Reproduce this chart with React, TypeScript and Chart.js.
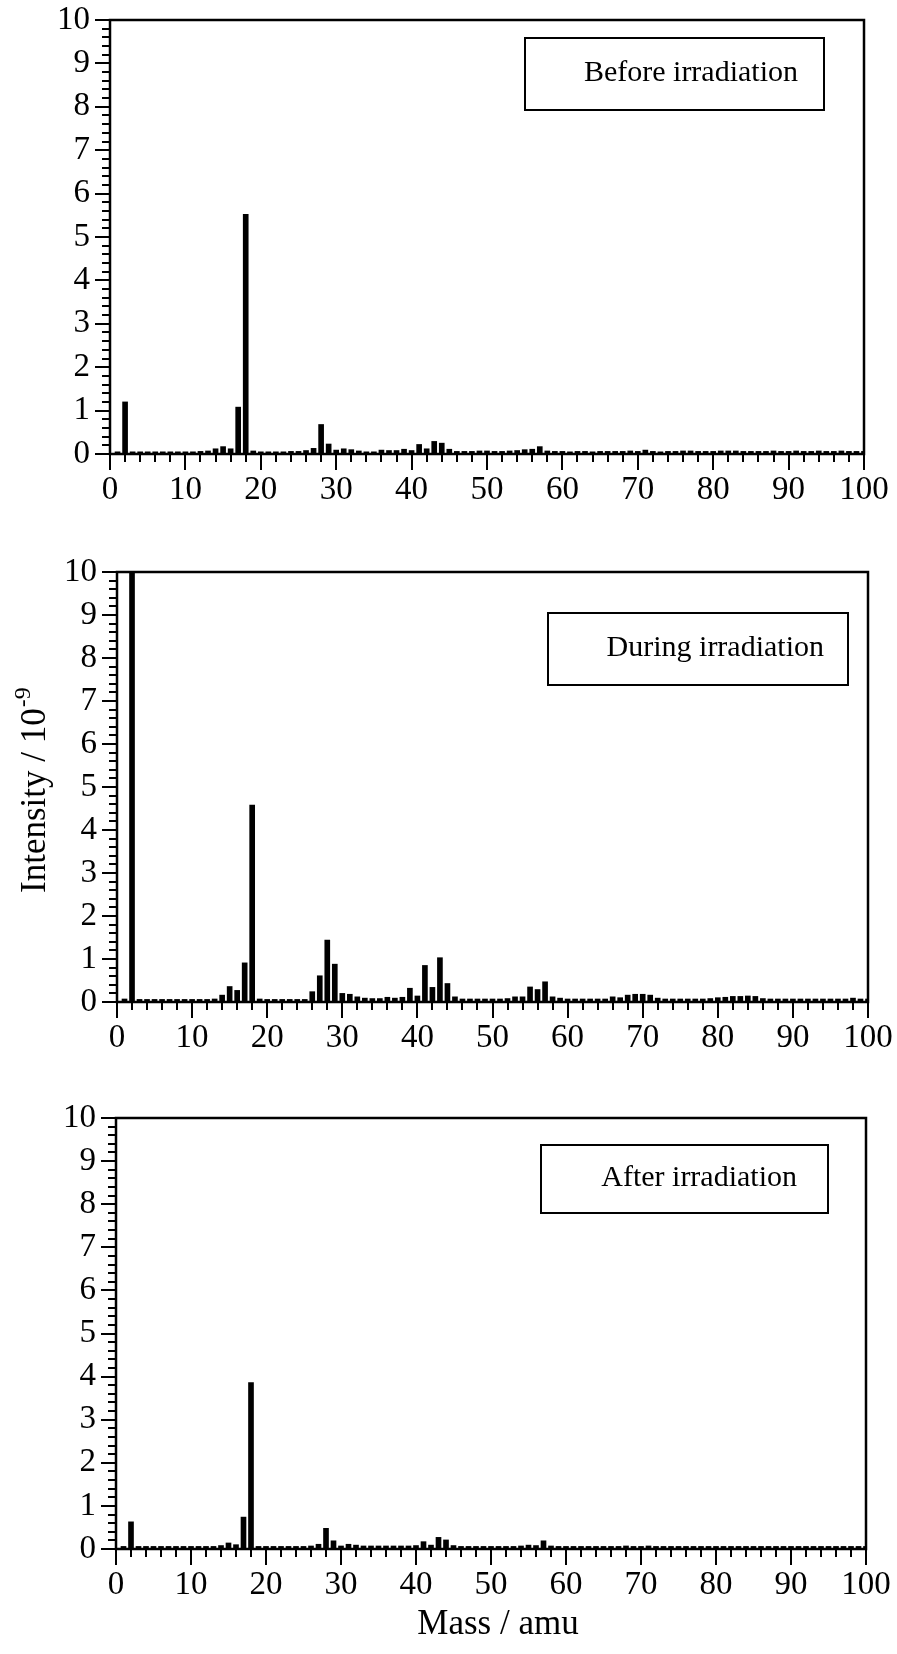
import React, { useEffect, useRef } from "react";
import { Chart, registerables } from "chart.js";

Chart.register(...registerables);

// ---------------- data ----------------
const masses = [
  1, 2, 3, 4, 5, 6, 7, 8, 9, 10,
  11, 12, 13, 14, 15, 16, 17, 18, 19, 20,
  21, 22, 23, 24, 25, 26, 27, 28, 29, 30,
  31, 32, 33, 34, 35, 36, 37, 38, 39, 40,
  41, 42, 43, 44, 45, 46, 47, 48, 49, 50,
  51, 52, 53, 54, 55, 56, 57, 58, 59, 60,
  61, 62, 63, 64, 65, 66, 67, 68, 69, 70,
  71, 72, 73, 74, 75, 76, 77, 78, 79, 80,
  81, 82, 83, 84, 85, 86, 87, 88, 89, 90,
  91, 92, 93, 94, 95, 96, 97, 98, 99, 100,
];

const beforeValues = [
  0.05, 1.2, 0.05, 0.05, 0.05, 0.05, 0.05, 0.05, 0.05, 0.05,
  0.05, 0.06, 0.07, 0.12, 0.17, 0.12, 1.08, 5.52, 0.07, 0.05,
  0.05, 0.05, 0.05, 0.06, 0.06, 0.08, 0.13, 0.68, 0.23, 0.09,
  0.12, 0.1, 0.07, 0.05, 0.05, 0.09, 0.08, 0.08, 0.11, 0.08,
  0.22, 0.12, 0.29, 0.25, 0.11, 0.06, 0.06, 0.06, 0.07, 0.07,
  0.06, 0.06, 0.07, 0.08, 0.1, 0.11, 0.17, 0.07, 0.06, 0.06,
  0.05, 0.06, 0.06, 0.05, 0.06, 0.06, 0.06, 0.06, 0.07, 0.06,
  0.09, 0.06, 0.05, 0.06, 0.06, 0.07, 0.07, 0.06, 0.06, 0.06,
  0.07, 0.07, 0.07, 0.06, 0.06, 0.06, 0.06, 0.07, 0.06, 0.06,
  0.07, 0.06, 0.06, 0.07, 0.06, 0.06, 0.07, 0.06, 0.06, 0.06,
];

const duringValues = [
  0.07, 10, 0.06, 0.06, 0.06, 0.06, 0.06, 0.06, 0.06, 0.06,
  0.06, 0.06, 0.07, 0.16, 0.36, 0.27, 0.91, 4.58, 0.07, 0.06,
  0.06, 0.06, 0.06, 0.06, 0.06, 0.24, 0.61, 1.44, 0.88, 0.2,
  0.18, 0.12, 0.09, 0.08, 0.08, 0.11, 0.09, 0.11, 0.32, 0.14,
  0.85, 0.34, 1.03, 0.43, 0.12, 0.07, 0.07, 0.07, 0.07, 0.07,
  0.07, 0.08, 0.12, 0.12, 0.35, 0.29, 0.47, 0.12, 0.09, 0.07,
  0.07, 0.07, 0.07, 0.07, 0.07, 0.12, 0.1, 0.16, 0.18, 0.18,
  0.16, 0.09, 0.07, 0.07, 0.07, 0.07, 0.07, 0.07, 0.08, 0.1,
  0.11, 0.13, 0.13, 0.14, 0.13, 0.08, 0.07, 0.07, 0.07, 0.07,
  0.07, 0.07, 0.07, 0.07, 0.07, 0.07, 0.07, 0.09, 0.07, 0.07,
];

const afterValues = [
  0.06, 0.63, 0.06, 0.06, 0.06, 0.06, 0.06, 0.06, 0.06, 0.06,
  0.06, 0.06, 0.06, 0.08, 0.14, 0.1, 0.74, 3.86, 0.06, 0.06,
  0.06, 0.06, 0.06, 0.06, 0.06, 0.07, 0.11, 0.48, 0.19, 0.07,
  0.11, 0.09, 0.07, 0.07, 0.07, 0.07, 0.07, 0.07, 0.07, 0.08,
  0.17, 0.09, 0.27, 0.21, 0.08, 0.06, 0.06, 0.06, 0.06, 0.06,
  0.06, 0.06, 0.06, 0.07, 0.09, 0.08, 0.19, 0.07, 0.06, 0.06,
  0.06, 0.06, 0.06, 0.06, 0.06, 0.06, 0.06, 0.07, 0.06, 0.06,
  0.07, 0.06, 0.06, 0.06, 0.06, 0.06, 0.06, 0.06, 0.06, 0.06,
  0.06, 0.06, 0.06, 0.06, 0.06, 0.06, 0.06, 0.06, 0.06, 0.06,
  0.06, 0.06, 0.06, 0.06, 0.06, 0.06, 0.06, 0.06, 0.06, 0.06,
];

const panelLabels = ["Before irradiation", "During irradiation", "After irradiation"];
const yAxisTitle = "Intensity / 10";
const yAxisTitleExponent = "-9";
const xAxisTitle = "Mass / amu";

// ---------------- styling / layout ----------------
const FONT = "'Liberation Serif', 'Times New Roman', Times, serif";
const PAGE_W = 897;
const X_AXIS_H = 50;

type PanelSpec = {
  values: number[];
  label: string;
  top: number;
  height: number;
  area: { l: number; r: number; t: number; b: number };
  box: { x1: number; y1: number; x2: number; y2: number; textRight: number; textY: number };
  yTitle?: { baseX: number; startY: number };
  xTitle?: { cx: number; cy: number };
};

const panels: PanelSpec[] = [
  {
    values: beforeValues,
    label: panelLabels[0],
    top: 0,
    height: 520,
    area: { l: 110, r: 864, t: 20, b: 454 },
    box: { x1: 525, y1: 38, x2: 824, y2: 110, textRight: 798, textY: 73 },
  },
  {
    values: duringValues,
    label: panelLabels[1],
    top: 520,
    height: 550,
    area: { l: 117, r: 868, t: 52, b: 482 },
    box: { x1: 548, y1: 93, x2: 848, y2: 165, textRight: 824, textY: 128 },
    yTitle: { baseX: 45, startY: 373 },
  },
  {
    values: afterValues,
    label: panelLabels[2],
    top: 1070,
    height: 584,
    area: { l: 116, r: 866, t: 48, b: 479 },
    box: { x1: 541, y1: 75, x2: 828, y2: 143, textRight: 797, textY: 108 },
    xTitle: { cx: 498, cy: 555 },
  },
];

const decorPlugin = {
  id: "decor",
  afterDraw(chart: any, _args: any, opts: any) {
    const { ctx, chartArea: a, scales } = chart;
    const xs = scales.x;
    const ys = scales.y;
    ctx.save();
    ctx.strokeStyle = "#000";
    ctx.fillStyle = "#000";

    // outward tick marks
    ctx.lineWidth = 2;
    ctx.beginPath();
    for (let v = 0; v <= 100; v += 2) {
      const px = Math.round(xs.getPixelForValue(v));
      const len = v % 10 === 0 ? 16 : 8;
      ctx.moveTo(px, a.bottom);
      ctx.lineTo(px, a.bottom + len);
    }
    for (let i = 0; i <= 50; i++) {
      const py = Math.round(ys.getPixelForValue(i / 5));
      const len = i % 5 === 0 ? 15 : 8;
      ctx.moveTo(a.left, py);
      ctx.lineTo(a.left - len, py);
    }
    ctx.stroke();

    // frame
    ctx.lineWidth = 2.5;
    ctx.strokeRect(a.left, a.top, a.right - a.left, a.bottom - a.top);

    // label box
    const b = opts.box;
    ctx.lineWidth = 2;
    ctx.strokeRect(b.x1, b.y1, b.x2 - b.x1, b.y2 - b.y1);
    ctx.font = `30px ${FONT}`;
    ctx.textAlign = "right";
    ctx.textBaseline = "middle";
    ctx.fillText(opts.label, b.textRight, b.textY);

    // y axis title with superscript
    if (opts.yTitle) {
      ctx.save();
      ctx.translate(opts.yTitle.baseX, opts.yTitle.startY);
      ctx.rotate(-Math.PI / 2);
      ctx.textAlign = "left";
      ctx.textBaseline = "alphabetic";
      ctx.font = `35px ${FONT}`;
      ctx.fillText(yAxisTitle, 0, 0);
      const w = ctx.measureText(yAxisTitle).width;
      ctx.font = `24px ${FONT}`;
      ctx.fillText(yAxisTitleExponent, w + 1, -15);
      ctx.restore();
    }

    // x axis title
    if (opts.xTitle) {
      ctx.font = `35px ${FONT}`;
      ctx.textAlign = "center";
      ctx.textBaseline = "middle";
      ctx.fillText(xAxisTitle, opts.xTitle.cx, opts.xTitle.cy);
    }
    ctx.restore();
  },
};

function Panel({ spec }: { spec: PanelSpec }) {
  const ref = useRef<HTMLCanvasElement | null>(null);

  useEffect(() => {
    if (!ref.current) return;
    const { area, height } = spec;
    const chart = new Chart(ref.current, {
      type: "bar",
      data: {
        datasets: [
          {
            data: masses.map((m, i) => ({ x: m, y: spec.values[i] })),
            backgroundColor: "#000",
            borderWidth: 0,
            barThickness: 5,
            clip: 0,
          } as any,
        ],
      },
      options: {
        responsive: false,
        animation: false,
        events: [],
        layout: {
          padding: {
            left: 0,
            right: PAGE_W - area.r,
            top: area.t,
            bottom: height - area.b - X_AXIS_H,
          },
        },
        plugins: {
          legend: { display: false },
          tooltip: { enabled: false },
          title: { display: false },
          decor: {
            box: spec.box,
            label: spec.label,
            yTitle: spec.yTitle,
            xTitle: spec.xTitle,
          },
        } as any,
        scales: {
          x: {
            type: "linear",
            min: 0,
            max: 100,
            offset: false,
            grid: { display: false, drawTicks: false, offset: false },
            border: { display: false },
            ticks: {
              stepSize: 10,
              padding: 17,
              color: "#000",
              font: { family: FONT, size: 33 },
              maxRotation: 0,
              autoSkip: false,
            },
            afterFit: (s: any) => {
              s.height = X_AXIS_H;
              s.paddingLeft = 0;
              s.paddingRight = 0;
            },
          },
          y: {
            type: "linear",
            min: 0,
            max: 10,
            grid: { display: false, drawTicks: false },
            border: { display: false },
            ticks: {
              stepSize: 1,
              padding: 20,
              autoSkip: false,
              color: "#000",
              font: { family: FONT, size: 33 },
            },
            afterFit: (s: any) => {
              s.width = area.l;
              s.paddingTop = 0;
              s.paddingBottom = 0;
            },
          },
        },
      },
      plugins: [decorPlugin],
    });
    return () => chart.destroy();
  }, [spec]);

  return (
    <div style={{ position: "absolute", left: 0, top: spec.top, width: PAGE_W, height: spec.height }}>
      <canvas
        ref={ref}
        width={PAGE_W}
        height={spec.height}
        style={{ display: "block", width: PAGE_W, height: spec.height }}
      />
    </div>
  );
}

export default function App() {
  return (
    <div style={{ position: "absolute", left: 0, top: 0, width: PAGE_W, height: 1654, background: "#fff" }}>
      {panels.map((p) => (
        <Panel key={p.label} spec={p} />
      ))}
    </div>
  );
}
